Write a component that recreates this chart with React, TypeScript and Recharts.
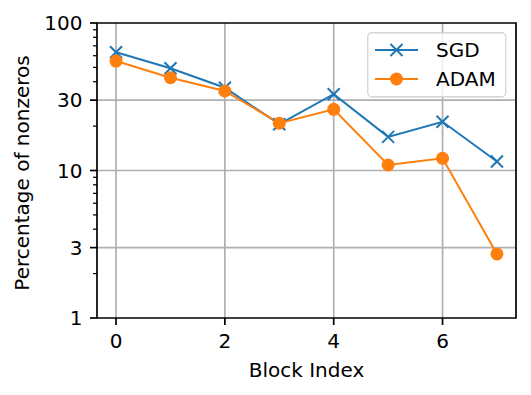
import React from "react"
import { CartesianGrid, Legend, Line, LineChart, ReferenceArea, XAxis, YAxis } from "recharts"

const blocks = [0, 1, 2, 3, 4, 5, 6, 7]
const sgd = [63.3, 49.3, 36.4, 20.6, 32.9, 16.9, 21.4, 11.5]
const adam = [55.2, 42.6, 34.6, 20.9, 26.0, 10.9, 12.1, 2.72]

const xTicks = [0, 2, 4, 6]
const yMajor = [1, 3, 10, 30, 100]
const yMinor = [2, 4, 5, 6, 7, 8, 9, 20, 40, 50, 60, 70, 80, 90]

const data = blocks.map((b, i) => ({ x: b, sgd: sgd[i], adam: adam[i] }))

const W = 531
const H = 395
const PLOT_LEFT = 97
const PLOT_BOTTOM = 318
const FONT = "DejaVu Sans, sans-serif"
const FS = 20
const BLUE = "#1f77b4"
const ORANGE = "#ff7f0e"

const YTick = (props: any) => {
  const { y, payload } = props
  const major = yMajor.includes(payload.value)
  return (
    <g>
      <line x1={PLOT_LEFT - (major ? 7 : 4)} x2={PLOT_LEFT} y1={y} y2={y} stroke="#000" strokeWidth={major ? 1.7 : 1.25} />
      {major && (
        <text x={PLOT_LEFT - 14.5} y={y} dy={7} textAnchor="end" fontSize={FS} fontFamily={FONT} fill="#000">
          {payload.value}
        </text>
      )}
    </g>
  )
}

const XTick = (props: any) => {
  const { x, payload } = props
  return (
    <g>
      <line x1={x} x2={x} y1={PLOT_BOTTOM} y2={PLOT_BOTTOM + 7} stroke="#000" strokeWidth={1.7} />
      <text x={x} y={PLOT_BOTTOM + 30} textAnchor="middle" fontSize={FS} fontFamily={FONT} fill="#000">
        {payload.value}
      </text>
    </g>
  )
}

const CrossDot = (props: any) => {
  const { cx, cy, index } = props
  const r = 6
  return (
    <g key={`x-${index}`}>
      <line x1={cx - r} y1={cy - r} x2={cx + r} y2={cy + r} stroke={BLUE} strokeWidth={2} />
      <line x1={cx - r} y1={cy + r} x2={cx + r} y2={cy - r} stroke={BLUE} strokeWidth={2} />
    </g>
  )
}

const LegendBox = () => (
  <svg width={140} height={66} style={{ display: "block" }}>
    <rect x={0.75} y={0.75} width={138} height={64} rx={4} fill="rgba(255,255,255,0.8)" stroke="#d4d4d4" strokeWidth={1.3} />
    <line x1={8} x2={51} y1={18} y2={18} stroke={BLUE} strokeWidth={2} />
    <line x1={23.5} y1={12} x2={35.5} y2={24} stroke={BLUE} strokeWidth={2} />
    <line x1={23.5} y1={24} x2={35.5} y2={12} stroke={BLUE} strokeWidth={2} />
    <text x={69} y={25} fontSize={FS} fontFamily={FONT} fill="#000">SGD</text>
    <line x1={8} x2={51} y1={47} y2={47} stroke={ORANGE} strokeWidth={2} />
    <circle cx={29.5} cy={47} r={6.5} fill={ORANGE} />
    <text x={69} y={54} fontSize={FS} fontFamily={FONT} fill="#000">ADAM</text>
  </svg>
)

export default function App() {
  return (
    <div style={{ position: "absolute", left: 0, top: 0, width: W, height: H, background: "#fff" }}>
      <LineChart width={W} height={H} data={data} margin={{ top: 23, right: 15, bottom: 0, left: 0 }}>
        <CartesianGrid stroke="#b0b0b0" strokeWidth={1.7} horizontalValues={[3, 10, 30]} verticalValues={xTicks} />
        <XAxis
          dataKey="x"
          type="number"
          domain={[-0.35, 7.35]}
          allowDataOverflow
          ticks={xTicks}
          height={H - PLOT_BOTTOM}
          axisLine={false}
          tickLine={false}
          tick={<XTick />}
          interval={0}
        />
        <YAxis
          type="number"
          scale="log"
          domain={[1, 100]}
          allowDataOverflow
          ticks={[...yMajor, ...yMinor]}
          width={PLOT_LEFT}
          axisLine={false}
          tickLine={false}
          tick={<YTick />}
          interval={0}
          label={() => {
            const cx = 29
            const cy = 173
            return (
              <text x={cx} y={cy} transform={`rotate(-90 ${cx} ${cy})`} textAnchor="middle" fontSize={FS} fontFamily={FONT} fill="#000">
                Percentage of nonzeros
              </text>
            )
          }}
        />
        <ReferenceArea x1={-0.35} x2={7.35} y1={1} y2={100} fill="none" stroke="#000" strokeWidth={1.7} ifOverflow="visible" />
        <Line dataKey="sgd" stroke={BLUE} strokeWidth={2} dot={CrossDot} activeDot={false} isAnimationActive={false} />
        <Line dataKey="adam" stroke={ORANGE} strokeWidth={2} dot={{ r: 6.5, fill: ORANGE, stroke: ORANGE, strokeWidth: 0 }} activeDot={false} isAnimationActive={false} />
        <Legend
          layout="vertical"
          align="center"
          verticalAlign="middle"
          wrapperStyle={{ position: "absolute", left: 367, top: 32, width: 140, height: 66 }}
          content={() => <LegendBox />}
        />
      </LineChart>
      <div style={{ position: "absolute", left: 0, top: 356, width: W, pointerEvents: "none" }}>
        <svg width={W} height={30}>
          <text x={306.5} y={21} textAnchor="middle" fontSize={FS} fontFamily={FONT} fill="#000">Block Index</text>
        </svg>
      </div>
    </div>
  )
}
